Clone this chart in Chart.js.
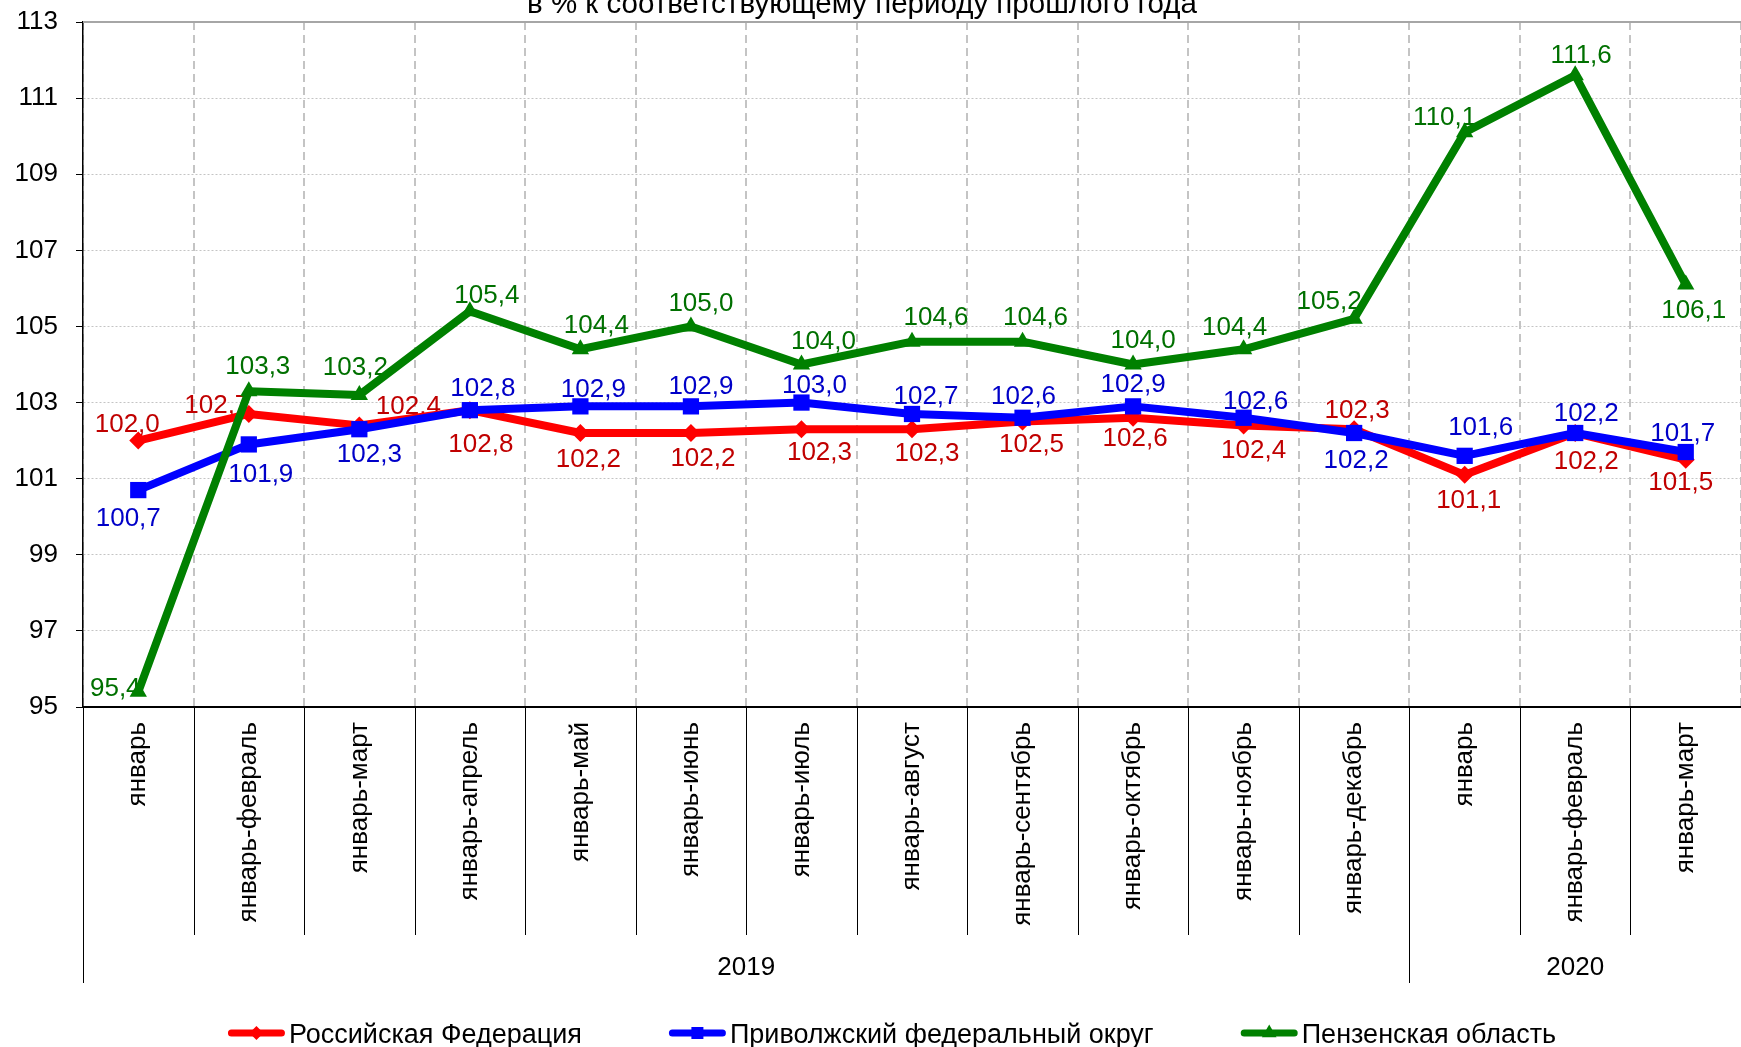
<!DOCTYPE html>
<html><head><meta charset="utf-8">
<style>html,body{margin:0;padding:0;background:#fff;overflow:hidden}canvas{display:block}</style>
<script src="https://cdn.jsdelivr.net/npm/chart.js@4.4.1/dist/chart.umd.min.js"></script>
</head><body>
<canvas id="c" width="1741" height="1047"></canvas>
<script>
// ---------- data ----------
const categories = ['январь','январь-февраль','январь-март','январь-апрель','январь-май','январь-июнь','январь-июль','январь-август','январь-сентябрь','январь-октябрь','январь-ноябрь','январь-декабрь','январь','январь-февраль','январь-март'];
const yearGroups = [{label:'2019', from:0, to:11},{label:'2020', from:12, to:14}];
const seriesNames = ['Российская Федерация','Приволжский федеральный округ','Пензенская область'];
const rfValues    = [102.0,102.7,102.4,102.8,102.2,102.2,102.3,102.3,102.5,102.6,102.4,102.3,101.1,102.2,101.5];
const pfoValues   = [100.7,101.9,102.3,102.8,102.9,102.9,103.0,102.7,102.6,102.9,102.6,102.2,101.6,102.2,101.7];
const penzaValues = [95.4,103.3,103.2,105.4,104.4,105.0,104.0,104.6,104.6,104.0,104.4,105.2,110.1,111.6,106.1];
const yMin = 95, yMax = 113, yStep = 2;
const titleText = 'в % к соответствующему периоду прошлого года';

// ---------- styling / label placement (relative to points, px) ----------
const FONT = "'Liberation Sans', Arial, Helvetica, sans-serif";
const lineColors  = ['#FF0000','#0000FF','#008000'];
const labelColors = ['#C00000','#0000C8','#007000'];
const pointStyles = ['rectRot','rect','triangle'];
const pointRadii  = [9,11.5,10];
const labelOffsets = [
  [[-11,-18],[-32,-10],[49,-21],[11,32],[8,25],[12,24],[18,21],[15,22],[9,21],[2,19],[10,23],[3,-21],[4,24],[11,27],[-5,21]],
  [[-10,27],[12,28],[10,23],[13,-24],[13,-19],[10,-22],[13,-19],[14,-19],[1,-23],[0,-24],[12,-18],[2,26],[16,-30],[11,-21],[-3,-20]],
  [[-23,-5],[9,-26],[-4,-29],[17,-18],[16,-26],[10,-25],[22,-25],[24,-26],[13,-26],[10,-26],[-9,-24],[-25,-19],[-20,-17],[6,-22],[8,24]]
];
const LABEL_FS = 26, TICK_FS = 26, LEGEND_FS = 27, TITLE_FS = 29.5;

function fmt(v){ return v.toFixed(1).replace('.', ','); }

function drawMarker(ctx, style, x, y, r, color){
  ctx.save();
  ctx.fillStyle = color;
  ctx.beginPath();
  if (style === 'rectRot') {
    ctx.moveTo(x, y - r); ctx.lineTo(x + r, y); ctx.lineTo(x, y + r); ctx.lineTo(x - r, y);
  } else if (style === 'rect') {
    const s = r * Math.SQRT1_2; ctx.rect(x - s, y - s, 2 * s, 2 * s);
  } else {
    for (let k = 0; k < 3; k++) {
      const ang = k * 2 * Math.PI / 3;
      const px = x + Math.sin(ang) * r, py = y - Math.cos(ang) * r;
      k ? ctx.lineTo(px, py) : ctx.moveTo(px, py);
    }
  }
  ctx.closePath(); ctx.fill();
  ctx.restore();
}

const decor = {
  id: 'decor',
  beforeDatasetsDraw(chart){
    const ctx = chart.ctx;
    ctx.save();
    ctx.font = LABEL_FS + 'px ' + FONT;
    ctx.textAlign = 'center';
    ctx.textBaseline = 'alphabetic';
    chart.data.datasets.forEach((ds, di) => {
      const meta = chart.getDatasetMeta(di);
      ctx.fillStyle = labelColors[di];
      meta.data.forEach((pt, i) => {
        const off = labelOffsets[di][i];
        ctx.fillText(fmt(ds.data[i]), pt.x + off[0], pt.y + off[1] + 0.36 * LABEL_FS);
      });
    });
    ctx.restore();
  },
  afterDraw(chart){
    const {ctx, chartArea: a, scales: {x}} = chart;
    const n = categories.length;
    ctx.save();
    // top frame line
    ctx.strokeStyle = '#a6a6a6'; ctx.lineWidth = 2;
    ctx.beginPath(); ctx.moveTo(a.left, a.top); ctx.lineTo(a.right, a.top); ctx.stroke();
    // separators below the axis
    ctx.strokeStyle = '#000'; ctx.lineWidth = 1;
    const starts = new Set(yearGroups.map(g => g.from));
    for (let i = 0; i < n; i++) {
      const bx = i === 0 ? a.left : (x.getPixelForTick(i - 1) + x.getPixelForTick(i)) / 2;
      const len = starts.has(i) ? 276 : 228;
      ctx.beginPath(); ctx.moveTo(Math.round(bx) + 0.5, a.bottom); ctx.lineTo(Math.round(bx) + 0.5, a.bottom + len); ctx.stroke();
    }
    // year group labels
    ctx.fillStyle = '#000';
    ctx.font = TICK_FS + 'px ' + FONT;
    ctx.textAlign = 'center'; ctx.textBaseline = 'alphabetic';
    yearGroups.forEach(g => {
      const cx = (x.getPixelForTick(g.from) + x.getPixelForTick(g.to)) / 2;
      ctx.fillText(g.label, cx, a.bottom + 259 + 0.36 * TICK_FS);
    });
    // title (partly above the canvas)
    ctx.font = TITLE_FS + 'px ' + FONT;
    ctx.fillText(titleText, 862, 13);
    // legend
    ctx.font = LEGEND_FS + 'px ' + FONT;
    const ly = 1033, lineLen = 57, gapText = 4, gapItem = 87;
    ctx.textAlign = 'left';
    const widths = seriesNames.map(s => lineLen + gapText + ctx.measureText(s).width);
    const total = widths.reduce((p, c) => p + c, 0) + gapItem * (seriesNames.length - 1);
    let lx = 892 - total / 2;
    const legendR = [7, 8.5, 8.5];
    seriesNames.forEach((s, i) => {
      ctx.strokeStyle = lineColors[i]; ctx.lineWidth = 7; ctx.lineCap = 'round';
      ctx.beginPath(); ctx.moveTo(lx + 3.5, ly); ctx.lineTo(lx + lineLen - 3.5, ly); ctx.stroke();
      drawMarker(ctx, pointStyles[i], lx + lineLen / 2, ly, legendR[i], lineColors[i]);
      ctx.fillStyle = '#000';
      ctx.fillText(s, lx + lineLen + gapText, ly + 0.36 * LEGEND_FS);
      lx += widths[i] + gapItem;
    });
    ctx.restore();
  }
};

const seriesValues = [rfValues, pfoValues, penzaValues];
const datasets = seriesValues.map((vals, i) => ({
  label: seriesNames[i],
  data: vals,
  borderColor: lineColors[i],
  backgroundColor: lineColors[i],
  borderWidth: 8,
  borderJoinStyle: 'round',
  borderCapStyle: 'round',
  pointStyle: pointStyles[i],
  pointRadius: pointRadii[i],
  pointHoverRadius: pointRadii[i],
  pointBorderWidth: 0,
  pointBackgroundColor: lineColors[i],
  tension: 0,
  clip: false,
  order: 3 - i
}));

Chart.defaults.font.family = FONT;
Chart.defaults.color = '#000';

new Chart(document.getElementById('c'), {
  type: 'line',
  data: { labels: categories, datasets },
  options: {
    responsive: false,
    animation: false,
    devicePixelRatio: 1,
    layout: { autoPadding: false, padding: { left: 0, top: 22, right: 0, bottom: 112 } },
    plugins: { legend: { display: false }, tooltip: { enabled: false }, title: { display: false } },
    scales: {
      x: {
        type: 'category',
        offset: true,
        grid: { display: true, offset: true, color: '#c4c4c4', lineWidth: 2, drawTicks: false },
        border: { display: true, color: '#000', width: 2, dash: [8, 5] },
        ticks: { autoSkip: false, minRotation: 90, maxRotation: 90, padding: 15, color: '#000', font: { size: TICK_FS, family: FONT } },
        afterFit(s){ s.height = 228; s.paddingLeft = 0; s.paddingRight = 0; s.paddingTop = 0; s.paddingBottom = 0; }
      },
      y: {
        min: yMin, max: yMax,
        ticks: { stepSize: yStep, padding: 18, color: '#000', font: { size: TICK_FS, family: FONT } },
        grid: { color: '#c4c4c4', lineWidth: 1, drawTicks: true, tickLength: 7, tickColor: '#000', tickWidth: 1, tickBorderDash: [1, 0] },
        border: { display: true, color: '#000', width: 1.5, dash: [2, 2] },
        afterFit(s){ s.width = 83; s.paddingLeft = 0; s.paddingRight = 0; s.paddingTop = 0; s.paddingBottom = 0; }
      }
    }
  },
  plugins: [decor]
});
</script>
</body></html>
